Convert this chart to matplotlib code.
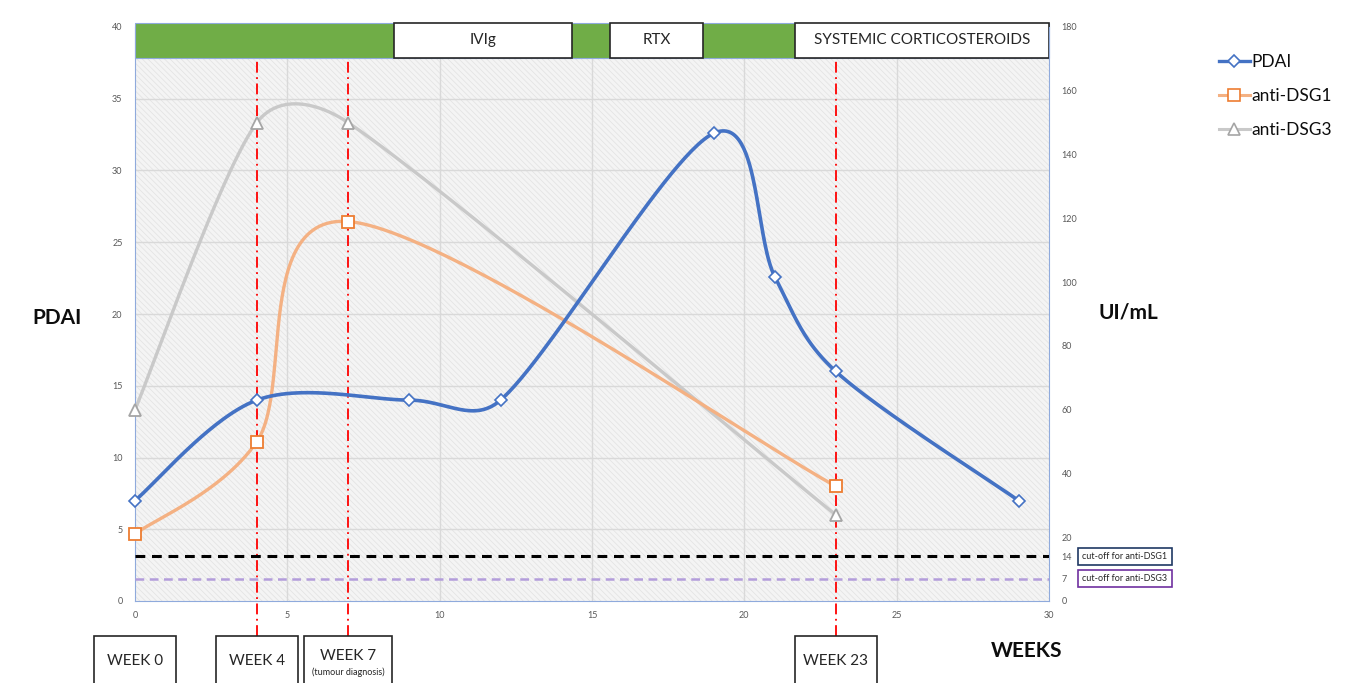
import numpy as np
import matplotlib
matplotlib.use("Agg")
import matplotlib.pyplot as plt
from matplotlib.patches import Rectangle
from matplotlib.lines import Line2D

plt.rcParams['font.family'] = ['Lato', 'DejaVu Sans']
plt.rcParams['hatch.linewidth'] = 0.6
plt.rcParams['hatch.color'] = '#e4e4e4'

# ---------------- data ----------------
pdai_weeks = [0, 4, 9, 12, 19, 21, 23, 29]
pdai_values = [7, 14, 14, 14, 32.6, 22.6, 16, 7]

dsg_weeks = [0, 4, 7, 23]
dsg1_values = [21, 50, 119, 36]
dsg3_values = [60, 150, 150, 27]

cutoff_dsg1 = 14
cutoff_dsg3 = 7

event_weeks = [4, 7, 23]
week_boxes = [("WEEK 0", 0, None), ("WEEK 4", 4, None),
              ("WEEK 7", 7, "(tumour diagnosis)"), ("WEEK 23", 23, None)]

treatments = [("IVIg", 8.5, 14.35), ("RTX", 15.6, 18.65),
              ("SYSTEMIC CORTICOSTEROIDS", 21.65, 30.0)]

left_ticks = [0, 5, 10, 15, 20, 25, 30, 35, 40]
right_ticks = [0, 7, 14, 20, 40, 60, 80, 100, 120, 140, 160, 180]
x_ticks = [0, 5, 10, 15, 20, 25, 30]

# ---------------- figure ----------------
W, H = 1357, 683
fig = plt.figure(figsize=(W / 100, H / 100), dpi=100)
fig.patch.set_facecolor('white')

def px(x, y):
    return (x / W, 1 - y / H)

ax_l, ax_b = 135 / W, (H - 601) / H
ax_w, ax_h = 914 / W, 574 / H
ax = fig.add_axes([ax_l, ax_b, ax_w, ax_h])
ax2 = ax.twinx()
ax.set_xlim(0, 30)
ax.set_ylim(0, 40)
ax2.set_ylim(0, 180)

spine_c = '#8faadc'
for a in (ax, ax2):
    for s in a.spines.values():
        s.set_visible(False)
ax.spines['left'].set_visible(True)
ax.spines['left'].set_color(spine_c)
ax.spines['bottom'].set_visible(True)
ax.spines['bottom'].set_color(spine_c)
ax2.spines['right'].set_visible(True)
ax2.spines['right'].set_color(spine_c)

ax.set_zorder(1)
ax2.set_zorder(2)
ax.patch.set_visible(False)
ax2.patch.set_visible(False)

# background hatched area
bg = Rectangle((0, 0), 30, 37.85, facecolor='#f4f4f4', edgecolor='#e4e4e4',
               hatch='\\\\\\\\\\\\', lw=0, zorder=0)
ax.add_patch(bg)

# grid
ax.set_xticks(x_ticks)
ax.set_yticks(left_ticks)
for xv in x_ticks[1:-1]:
    ax.plot([xv, xv], [0, 37.85], color='#d9d9d9', lw=1, zorder=0.5)
for yv in left_ticks[1:-1]:
    ax.plot([0, 30], [yv, yv], color='#d9d9d9', lw=1, zorder=0.5)

tick_c = '#595959'
ax.tick_params(axis='both', length=0, labelsize=6.5, labelcolor=tick_c)
ax.tick_params(axis='x', pad=7)
ax.tick_params(axis='y', pad=9)
ax2.set_yticks(right_ticks)
ax2.tick_params(axis='y', length=0, labelsize=6.5, labelcolor=tick_c, pad=9)

# green treatment bar
ax.add_patch(Rectangle((0, 37.85), 30, 2.45, facecolor='#70ad47',
                       edgecolor=spine_c, lw=0.8, zorder=3, clip_on=False))
for name, x0, x1 in treatments:
    ax.add_patch(Rectangle((x0, 37.85), x1 - x0, 2.45, facecolor='white',
                           edgecolor='#262626', lw=1.2, zorder=4, clip_on=False))
    ax.text((x0 + x1) / 2, 37.85 + 1.22, name, ha='center', va='center',
            fontsize=11, color='#262626', zorder=5, clip_on=False)

# ---------------- Excel-like smoothing ----------------
def excel_smooth(a, xs, ys, k=1 / 6, clamp=0.4, n=60):
    pts = a.transData.transform(np.column_stack([xs, ys]))
    N = len(pts)
    out = [pts[0]]
    for i in range(N - 1):
        p0 = pts[i - 1] if i > 0 else pts[i]
        p1 = pts[i]
        p2 = pts[i + 1]
        p3 = pts[i + 2] if i + 2 < N else pts[i + 1]
        seg = np.linalg.norm(p2 - p1)
        t1 = (p2 - p0) * k
        t2 = (p3 - p1) * k
        for t in (t1, t2):
            L = np.linalg.norm(t)
            if L > clamp * seg and L > 0:
                t *= clamp * seg / L
        c1 = p1 + t1
        c2 = p2 - t2
        tt = np.linspace(0, 1, n)[1:, None]
        b = ((1 - tt) ** 3) * p1 + 3 * ((1 - tt) ** 2) * tt * c1 + \
            3 * (1 - tt) * tt ** 2 * c2 + tt ** 3 * p2
        out.extend(b)
    out = np.array(out)
    return a.transData.inverted().transform(out)

blue = '#4472c4'
orange = '#ed7d31'
orange_l = '#f4b183'
gray = '#a5a5a5'
gray_l = '#c9c9c9'

c3 = excel_smooth(ax2, dsg_weeks, dsg3_values)
ax2.plot(c3[:, 0], c3[:, 1], color=gray_l, lw=2.4, zorder=3, solid_capstyle='round')
ax2.plot(dsg_weeks, dsg3_values, ls='none', marker='^', ms=9, mfc='white',
         mec=gray, mew=1.3, zorder=4, clip_on=False)

c1 = excel_smooth(ax2, dsg_weeks, dsg1_values)
ax2.plot(c1[:, 0], c1[:, 1], color=orange_l, lw=2.4, zorder=3, solid_capstyle='round')
ax2.plot(dsg_weeks, dsg1_values, ls='none', marker='s', ms=9, mfc='white',
         mec=orange, mew=1.3, zorder=4, clip_on=False)

cp = excel_smooth(ax, pdai_weeks, pdai_values)
ax2.plot(*ax2.transData.inverted().transform(ax.transData.transform(cp)).T,
         color=blue, lw=2.6, zorder=5, solid_capstyle='round')
pd_pts = ax2.transData.inverted().transform(
    ax.transData.transform(np.column_stack([pdai_weeks, pdai_values])))
ax2.plot(pd_pts[:, 0], pd_pts[:, 1], ls='none', marker='D', ms=6.5, mfc='white',
         mec=blue, mew=1.2, zorder=6, clip_on=False)

# cut-off lines
ax2.plot([0, 30], [cutoff_dsg1] * 2, color='black', lw=2.2, ls=(0, (3.2, 2.2)), zorder=3)
ax2.plot([0, 30], [cutoff_dsg3] * 2, color='#b39ddb', lw=1.8, ls=(0, (3.5, 2.2)), zorder=3)

# event lines
for wk in event_weeks:
    ax.plot([wk, wk], [-2.44, 37.85], color='#ff0000', lw=1.3,
            ls=(0, (6, 2.5, 1, 2.5)), zorder=6, clip_on=False)

# week boxes
box_top = -2.44
for label, wk, sub in week_boxes:
    wbox = 2.9 if sub else 2.68
    ax.add_patch(Rectangle((wk - wbox / 2, box_top - 4.0), wbox, 4.0, facecolor='white',
                           edgecolor='#262626', lw=1.2, zorder=7, clip_on=False))
    if sub:
        ax.text(wk, -3.83, label, ha='center', va='center', fontsize=11,
                color='#262626', zorder=8, clip_on=False)
        ax.text(wk, -4.93, sub, ha='center', va='center', fontsize=6.5,
                color='#262626', zorder=8, clip_on=False)
    else:
        ax.text(wk, -4.18, label, ha='center', va='center', fontsize=11,
                color='#262626', zorder=8, clip_on=False)

# cut-off label boxes
fig.text(*px(1125, 556.5), "cut-off for anti-DSG1", ha='center', va='center', fontsize=6.5,
         color='#262626',
         bbox=dict(boxstyle='square,pad=0.45', facecolor='white', edgecolor='#1f3864', lw=1.2))
fig.text(*px(1125, 578.5), "cut-off for anti-DSG3", ha='center', va='center', fontsize=6.5,
         color='#262626',
         bbox=dict(boxstyle='square,pad=0.45', facecolor='white', edgecolor='#7030a0', lw=1.2))

# axis titles
fig.text(*px(57, 318), "PDAI", ha='center', va='center', fontsize=15, fontweight='bold',
         color='#0d0d0d')
fig.text(*px(1128, 313), "UI/mL", ha='center', va='center', fontsize=15, fontweight='bold',
         color='#0d0d0d')
fig.text(*px(1027, 651), "WEEKS", ha='center', va='center', fontsize=15, fontweight='bold',
         color='#0d0d0d')

# legend
handles = [
    Line2D([], [], color=blue, lw=2.4, marker='D', ms=6, mfc='white', mec=blue, mew=1.2),
    Line2D([], [], color=orange_l, lw=2.2, marker='s', ms=8, mfc='white', mec=orange, mew=1.2),
    Line2D([], [], color=gray_l, lw=2.2, marker='^', ms=8, mfc='white', mec=gray, mew=1.2),
]
fig.legend(handles, ["PDAI", "anti-DSG1", "anti-DSG3"], loc='upper left',
           bbox_to_anchor=px(1203, 38), frameon=False, fontsize=12.5,
           handlelength=1.8, handletextpad=0.1, labelspacing=1.05,
           labelcolor='#0d0d0d')

fig.savefig("out.png", dpi=100, facecolor='white')
